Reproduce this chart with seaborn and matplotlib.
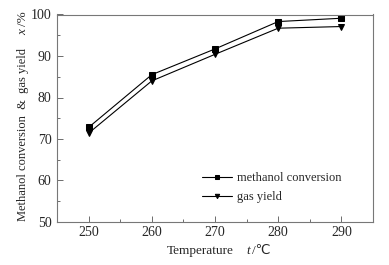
import matplotlib
matplotlib.use("Agg")
import matplotlib.pyplot as plt
import seaborn as sns
import pandas as pd
from matplotlib.ticker import MultipleLocator

temperature = [250, 260, 270, 280, 290]
methanol_conversion = [72.8, 85.5, 91.7, 98.3, 99.1]
gas_yield = [71.4, 84.0, 90.4, 96.7, 97.1]

df = pd.DataFrame({
    "t": temperature * 2,
    "v": methanol_conversion + gas_yield,
    "s": ["methanol conversion"] * 5 + ["gas yield"] * 5,
})

sns.set_style("white")
plt.rcParams['font.family'] = ['Liberation Serif', 'DejaVu Sans']

W, H = 389, 265
fig = plt.figure(figsize=(W / 100, H / 100), dpi=100)
ax = fig.add_axes([57 / W, 1 - 222 / H, (373 - 57) / W, (222 - 14.5) / H])

sns.lineplot(data=df, x="t", y="v", hue="s", style="s",
             palette={"methanol conversion": "black", "gas yield": "black"},
             markers={"methanol conversion": "s", "gas yield": "v"},
             dashes=False, markersize=4.5, linewidth=0.8, ax=ax,
             markeredgecolor="black")

ax.set_xlim(245, 295)
ax.set_ylim(50, 100)
ax.xaxis.set_major_locator(MultipleLocator(10))
ax.xaxis.set_minor_locator(MultipleLocator(5))
ax.yaxis.set_major_locator(MultipleLocator(10))
ax.yaxis.set_minor_locator(MultipleLocator(5))
ax.tick_params(which="both", direction="in", top=False, right=False,
               bottom=True, left=True, labelsize=10, color="#555555")
ax.tick_params(which="major", length=4, width=0.6)
ax.tick_params(axis="x", which="major", pad=3)
ax.tick_params(axis="y", which="major", pad=4)
ax.tick_params(which="minor", length=2.5, width=0.6)
for sp in ax.spines.values():
    sp.set_color("#777777")
    sp.set_linewidth(0.8)
ax.set_xlabel("")
ax.set_ylabel("")

def px(x, y):
    return x / W, 1 - y / H

# x-axis label pieces
fig.text(*px(167, 251), "Temperature", ha="left", va="center", fontsize=9.5)
fig.text(*px(248, 251), "t", ha="center", va="center", fontsize=9.5, style="italic")
fig.text(*px(252, 251), "/℃", ha="left", va="center", fontsize=9.5,
         family=['Liberation Serif', 'DejaVu Sans'])

# y-axis label pieces
fig.text(*px(23, 221), "Methanol conversion  &  gas yield", rotation=90,
         ha="center", va="bottom", fontsize=9)
fig.text(*px(23, 35), "x", rotation=90, ha="center", va="bottom",
         fontsize=9.5, style="italic")
fig.text(*px(23, 26), "/%", rotation=90, ha="center", va="bottom", fontsize=9.5)

ax.legend(loc="lower left", bbox_to_anchor=(140 / 316, 14 / 207.5), frameon=False,
          fontsize=9, handlelength=2.4, handletextpad=0.4,
          labelspacing=0.55, borderaxespad=0, markerscale=0.7)

fig.savefig("out.png", dpi=100)
